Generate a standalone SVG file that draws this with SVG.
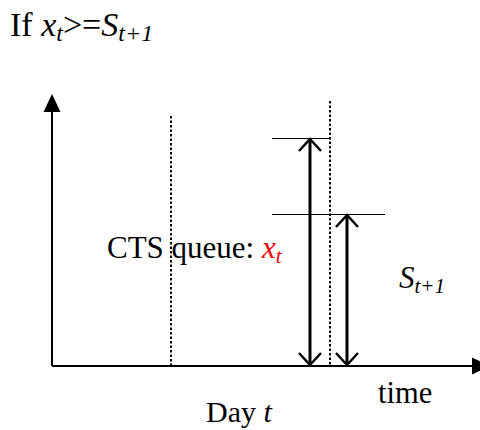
<svg xmlns="http://www.w3.org/2000/svg" width="480" height="430" viewBox="0 0 480 430">
<style>
.t{font-family:"Liberation Serif",serif;fill:#000}
.i{font-style:italic}
.ax{stroke:#000;stroke-width:2;fill:none}
.dot{stroke:#000;stroke-width:2;stroke-dasharray:2.5 2;fill:none}
.th{stroke:#000;stroke-width:1;fill:none}
.arr{stroke:#000;stroke-width:3;fill:none}
.hd{stroke:#000;stroke-width:2.5;fill:none}
</style>
<rect width="480" height="430" fill="#fff"/>
<g id="title">
<text class="t" x="10" y="36" font-size="34">If <tspan class="i">x</tspan><tspan class="i" font-size="24" dy="5">t</tspan><tspan dy="-5">&gt;=</tspan><tspan class="i">S</tspan><tspan class="i" font-size="24" dy="5">t+1</tspan></text>
</g>
<g id="axes">
<line class="ax" x1="52" y1="366" x2="52" y2="108"/>
<polygon points="52,94 43.5,112 60.5,112" fill="#000"/>
<line class="ax" x1="52" y1="366" x2="476" y2="366"/>
<polygon points="490,366 472,357.5 472,374.5" fill="#000"/>
</g>
<g id="day-lines">
<line class="dot" x1="171" y1="116" x2="171" y2="366"/>
<line class="dot" x1="330" y1="101" x2="330" y2="366"/>
</g>
<g id="levels">
<line class="th" x1="272" y1="138.5" x2="330" y2="138.5"/>
<line class="th" x1="272" y1="214.5" x2="385" y2="214.5"/>
</g>
<g id="connectors">
<line class="arr" x1="310" y1="140" x2="310" y2="364"/>
<polyline class="hd" points="299,151 310,139 321,151"/>
<polyline class="hd" points="299,353 310,365 321,353"/>
<line class="arr" x1="347" y1="216" x2="347" y2="364"/>
<polyline class="hd" points="336,227 347,215 358,227"/>
<polyline class="hd" points="336,353 347,365 358,353"/>
</g>
<g id="cts-label">
<text class="t" x="107" y="258" font-size="31">CTS queue: <tspan class="i" style="fill:#ff0000">x</tspan><tspan class="i" font-size="21" dy="5" style="fill:#ff0000">t</tspan></text>
</g>
<g id="s-label">
<text class="t" x="399" y="288" font-size="31"><tspan class="i">S</tspan><tspan class="i" font-size="21" dy="5">t+1</tspan></text>
</g>
<g id="time-label">
<text class="t" x="378" y="403" font-size="30.5">time</text>
</g>
<g id="day-label">
<text class="t" x="206" y="422" font-size="30">Day <tspan class="i">t</tspan></text>
</g>
</svg>
